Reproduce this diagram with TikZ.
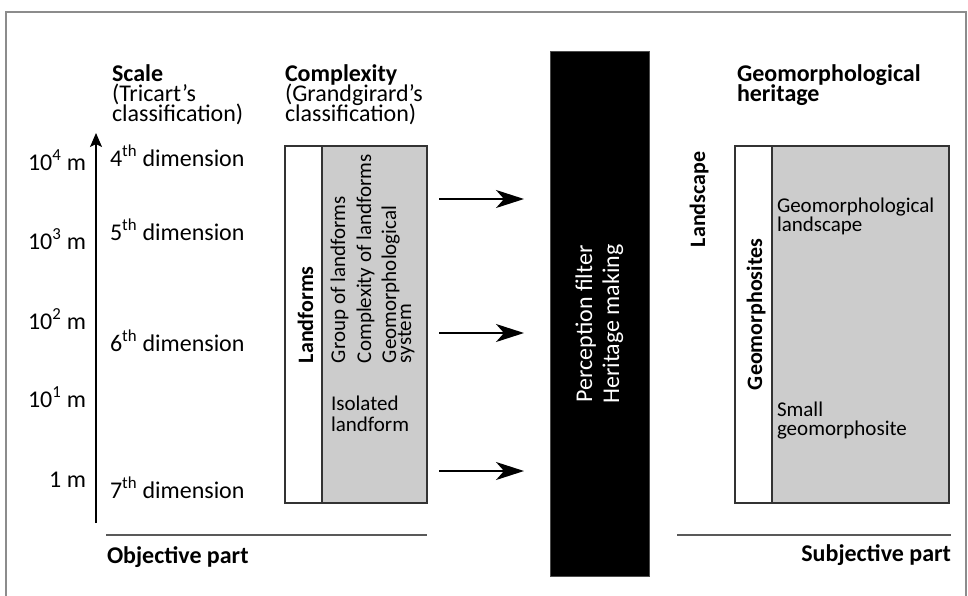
\documentclass[tikz,border=0pt]{standalone}
\usepackage{fontspec}
\setmainfont{Carlito}
\usetikzlibrary{arrows.meta}
\begin{document}
\begin{tikzpicture}[x=1pt,y=-1pt,
  every node/.style={inner sep=0pt, outer sep=0pt},
  ttl/.style={font=\fontsize{24}{20}\selectfont\bfseries, anchor=base west},
  sub/.style={font=\fontsize{24}{20}\selectfont, anchor=base west},
  scl/.style={font=\fontsize{24}{20}\selectfont, anchor=base east},
  dim/.style={font=\fontsize{24}{20}\selectfont, anchor=base west},
  btxt/.style={font=\fontsize{21}{19}\selectfont, anchor=base west},
  vtxt/.style={font=\fontsize{21}{19}\selectfont, anchor=base west, rotate=90},
  vbold/.style={font=\fontsize{22}{19}\selectfont\bfseries, anchor=base west, rotate=90},
  colbox/.style={draw=black!80, line width=1.2pt, anchor=north west},
  frame/.style={draw=black!45, line width=1.5pt},
  rule/.style={draw=black!65, line width=1.5pt},
  flow/.style={line width=2pt, -{Stealth[length=28pt, width=18pt, inset=8pt]}},
  axis/.style={line width=1.3pt, -{Stealth[length=14pt, width=12pt, inset=3pt]}}
]
\useasboundingbox (0,0) rectangle (968,595);
\fill[white] (0,0) rectangle (968,595);
\draw[frame] (6,600) -- (6,12) -- (966,12) -- (966,600);

% titles
\node[ttl] (scaleT) at (112,81) {Scale};
\node[sub] (scaleS1) at (112,101) {(Tricart’s};
\node[sub] (scaleS2) at (112,121) {classification)};
\node[ttl] (cplxT) at (285,81) {Complexity};
\node[sub] (cplxS1) at (285,101) {(Grandgirard’s};
\node[sub] (cplxS2) at (285,121) {classification)};
\node[ttl] (heritT1) at (737,81) {Geomorphological};
\node[ttl] (heritT2) at (737,101) {heritage};

% scale axis
\coordinate (axB) at (96,523);
\coordinate (axT) at (96,133);
\draw[axis] (axB) -- (axT);
\node[scl] (s4) at (86,170) {10\textsuperscript{4} m};
\node[scl] (s3) at (86,249) {10\textsuperscript{3} m};
\node[scl] (s2) at (86,329) {10\textsuperscript{2} m};
\node[scl] (s1) at (86,407) {10\textsuperscript{1} m};
\node[scl] (s0) at (86,487) {1 m};
\node[dim] (d4) at (110,166) {4\textsuperscript{th} dimension};
\node[dim] (d5) at (110,240) {5\textsuperscript{th} dimension};
\node[dim] (d6) at (110,351) {6\textsuperscript{th} dimension};
\node[dim] (d7) at (110,498) {7\textsuperscript{th} dimension};

% left box
\node[colbox, fill=white, minimum width=37pt, minimum height=357pt] (lw) at (285,146) {};
\node[colbox, fill=black!20, minimum width=105pt, minimum height=357pt] (lg) at (322,146) {};
\node[vbold] (landforms) at (313,363) {Landforms};
\node[vtxt] (group) at (345,363) {Group of landforms};
\node[vtxt] (complex) at (371,363) {Complexity of landforms};
\node[vtxt] (geosys1) at (396,363) {Geomorphological};
\node[vtxt] (geosys2) at (411,363) {system};
\node[btxt] (iso1) at (331,410) {Isolated};
\node[btxt] (iso2) at (331,431) {landform};

% filter
\node[fill=black, draw=black!70, line width=0.8pt, minimum width=99pt, minimum height=525pt, anchor=north west] (filter) at (550,51) {};
\node[font=\fontsize{24}{20}\selectfont, text=white, rotate=90, anchor=base] (perc) at (592,324) {Perception filter};
\node[font=\fontsize{24}{20}\selectfont, text=white, rotate=90, anchor=base] (herit) at (619,324) {Heritage making};

% arrows
\coordinate (a1s) at (439,199); \coordinate (a1e) at (524,199);
\coordinate (a2s) at (439,333); \coordinate (a2e) at (524,333);
\coordinate (a3s) at (439,471); \coordinate (a3e) at (524,471);
\draw[flow] (a1s) -- (a1e);
\draw[flow] (a2s) -- (a2e);
\draw[flow] (a3s) -- (a3e);

% right box
\node[colbox, fill=white, minimum width=37pt, minimum height=357pt] (rw) at (735,146) {};
\node[colbox, fill=black!20, minimum width=177pt, minimum height=357pt] (rg) at (772,146) {};
\node[vbold] (landscape) at (705,247) {Landscape};
\node[vbold] (geosites) at (762,390) {Geomorphosites};
\node[btxt] (gl1) at (777,212) {Geomorphological};
\node[btxt] (gl2) at (777,231) {landscape};
\node[btxt] (sg1) at (777,416) {Small};
\node[btxt] (sg2) at (777,435) {geomorphosite};

% bottom rules
\coordinate (r1a) at (106,535); \coordinate (r1b) at (427,535);
\coordinate (r2a) at (677,535); \coordinate (r2b) at (951,535);
\draw[rule] (r1a) -- (r1b);
\draw[rule] (r2a) -- (r2b);
\node[ttl] (obj) at (107,563) {Objective part};
\node[ttl, anchor=base east] (subj) at (951,561) {Subjective part};
\end{tikzpicture}
\end{document}
